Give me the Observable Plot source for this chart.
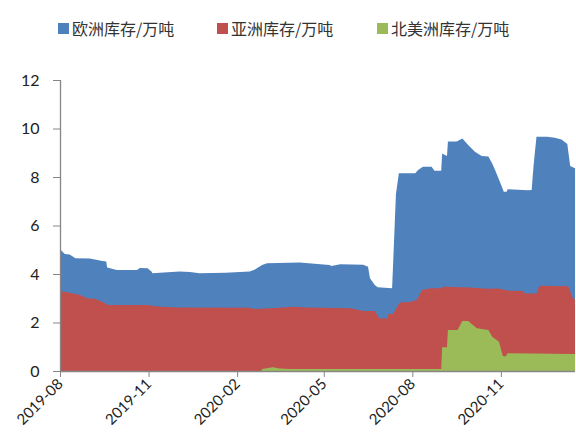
<!DOCTYPE html>
<html><head><meta charset="utf-8">
<script src="https://cdn.jsdelivr.net/npm/d3@7"></script>
<script src="https://cdn.jsdelivr.net/npm/@observablehq/plot@0.6"></script>
<style>
body{margin:0;background:#fff;}
#legend{position:relative;height:55px;width:576px;font-family:"Noto Sans CJK SC",sans-serif;font-size:16px;color:#333;}
.item{position:absolute;top:18px;display:flex;align-items:center;height:20px;white-space:nowrap;}
.sw{width:11px;height:11px;margin-right:3px;}
</style></head><body>
<div id="legend"></div><div id="chart"></div>
<script>
const seriesNames = ["欧洲库存/万吨", "亚洲库存/万吨", "北美洲库存/万吨"];
const seriesColors = ["#4F81BD", "#C0504D", "#9BBB59"];
const legendLeft = [58, 217, 377];

const euDates = ["2019-08-01","2019-08-06","2019-08-11","2019-08-17","2019-09-01","2019-09-14","2019-09-18","2019-09-19","2019-09-29","2019-10-20","2019-10-23","2019-10-31","2019-11-04","2019-11-05","2019-11-13","2019-12-03","2019-12-14","2019-12-24","2020-01-20","2020-02-14","2020-02-19","2020-02-27","2020-03-03","2020-04-06","2020-05-07","2020-05-09","2020-05-18","2020-06-11","2020-06-16","2020-06-18","2020-06-23","2020-06-26","2020-07-11","2020-07-15","2020-07-18","2020-08-04","2020-08-07","2020-08-12","2020-08-21","2020-08-24","2020-08-31","2020-09-01","2020-09-06","2020-09-07","2020-09-16","2020-09-22","2020-09-28","2020-10-05","2020-10-12","2020-10-19","2020-10-23","2020-10-26","2020-11-02","2020-11-04","2020-11-07","2020-11-08","2020-11-29","2020-12-03","2020-12-05","2020-12-08","2020-12-19","2020-12-27","2021-01-03","2021-01-09","2021-01-12","2021-01-17"];
const euValues = [5.02,4.82,4.80,4.65,4.64,4.54,4.52,4.27,4.16,4.17,4.25,4.24,4.10,4.03,4.05,4.10,4.08,4.03,4.05,4.10,4.18,4.37,4.44,4.47,4.37,4.33,4.40,4.38,4.30,3.82,3.55,3.45,3.41,7.30,8.15,8.15,8.29,8.42,8.42,8.26,8.26,8.97,8.87,9.46,9.46,9.59,9.32,9.04,8.87,8.85,8.56,8.29,7.60,7.39,7.39,7.50,7.45,7.46,8.49,9.66,9.66,9.62,9.55,9.36,8.45,8.36];

const asDates = ["2019-08-01","2019-08-11","2019-08-22","2019-08-29","2019-09-06","2019-09-14","2019-09-20","2019-10-30","2019-11-13","2019-12-03","2020-02-14","2020-02-19","2020-03-16","2020-03-30","2020-04-13","2020-05-29","2020-06-11","2020-06-23","2020-06-28","2020-07-06","2020-07-07","2020-07-12","2020-07-19","2020-07-30","2020-08-06","2020-08-11","2020-08-20","2020-08-31","2020-09-02","2020-09-30","2020-10-18","2020-10-29","2020-11-10","2020-11-24","2020-11-26","2020-12-08","2020-12-11","2021-01-10","2021-01-14","2021-01-17"];
const asValues = [3.30,3.23,3.13,3.00,2.98,2.86,2.72,2.72,2.65,2.62,2.61,2.56,2.61,2.65,2.62,2.59,2.47,2.47,2.17,2.17,2.34,2.36,2.82,2.85,2.95,3.34,3.41,3.41,3.47,3.44,3.39,3.40,3.31,3.30,3.20,3.20,3.52,3.50,3.06,2.93];

const naDates = ["2019-08-01","2020-02-26","2020-02-27","2020-03-09","2020-03-16","2020-03-27","2020-08-31","2020-09-01","2020-09-06","2020-09-07","2020-09-17","2020-09-22","2020-09-28","2020-10-07","2020-10-19","2020-10-23","2020-10-30","2020-11-03","2020-11-06","2020-11-08","2021-01-17"];
const naValues = [0,0,0.08,0.15,0.10,0.08,0.08,0.98,0.98,1.69,1.69,2.06,2.06,1.76,1.69,1.41,1.21,0.62,0.60,0.73,0.70];

const xTickDates = ["2019-08-01","2019-11-01","2020-02-01","2020-05-01","2020-08-01","2020-11-01"];
const yTicks = [0,2,4,6,8,10,12];

const parse = d3.utcParse("%Y-%m-%d");
const mk = (dates, vals) => dates.map((d, i) => ({date: parse(d), value: vals[i]}));
const eu = mk(euDates, euValues), as = mk(asDates, asValues), na = mk(naDates, naValues);

const legend = document.getElementById("legend");
seriesNames.forEach((n, i) => {
  const it = document.createElement("div");
  it.className = "item";
  it.style.left = legendLeft[i] + "px";
  it.innerHTML = `<span class="sw" style="background:${seriesColors[i]}"></span><span>${n}</span>`;
  legend.appendChild(it);
});

const x0 = parse("2019-08-01"), x1 = parse("2021-01-17");
const chart = Plot.plot({
  width: 576, height: 387,
  marginLeft: 60, marginRight: 1, marginTop: 25, marginBottom: 71,
  style: {fontFamily: "Lato, 'Liberation Sans', sans-serif", fontSize: "16px", color: "#222", background: "#fff"},
  x: {type: "utc", domain: [x0, x1]},
  y: {domain: [0, 12]},
  marks: [
    Plot.areaY(eu, {x: "date", y: "value", fill: seriesColors[0]}),
    Plot.areaY(as, {x: "date", y: "value", fill: seriesColors[1]}),
    Plot.areaY(na, {x: "date", y: "value", fill: seriesColors[2]}),
    Plot.ruleX([x0], {stroke: "#868686", strokeWidth: 1.3}),
    Plot.ruleY([0], {stroke: "#868686", strokeWidth: 1.3}),
    Plot.axisY({ticks: yTicks, tickSize: 7, tickPadding: 14, stroke: "#868686", label: null, tickFormat: d => d, fontSize: 16}),
    Plot.axisX({ticks: xTickDates.map(parse), tickFormat: d3.utcFormat("%Y-%m"), tickRotate: -45, tickSize: 6, tickPadding: 4, stroke: "#868686", label: null, fontSize: 15})
  ]
});
document.getElementById("chart").appendChild(chart);
</script>
</body></html>
